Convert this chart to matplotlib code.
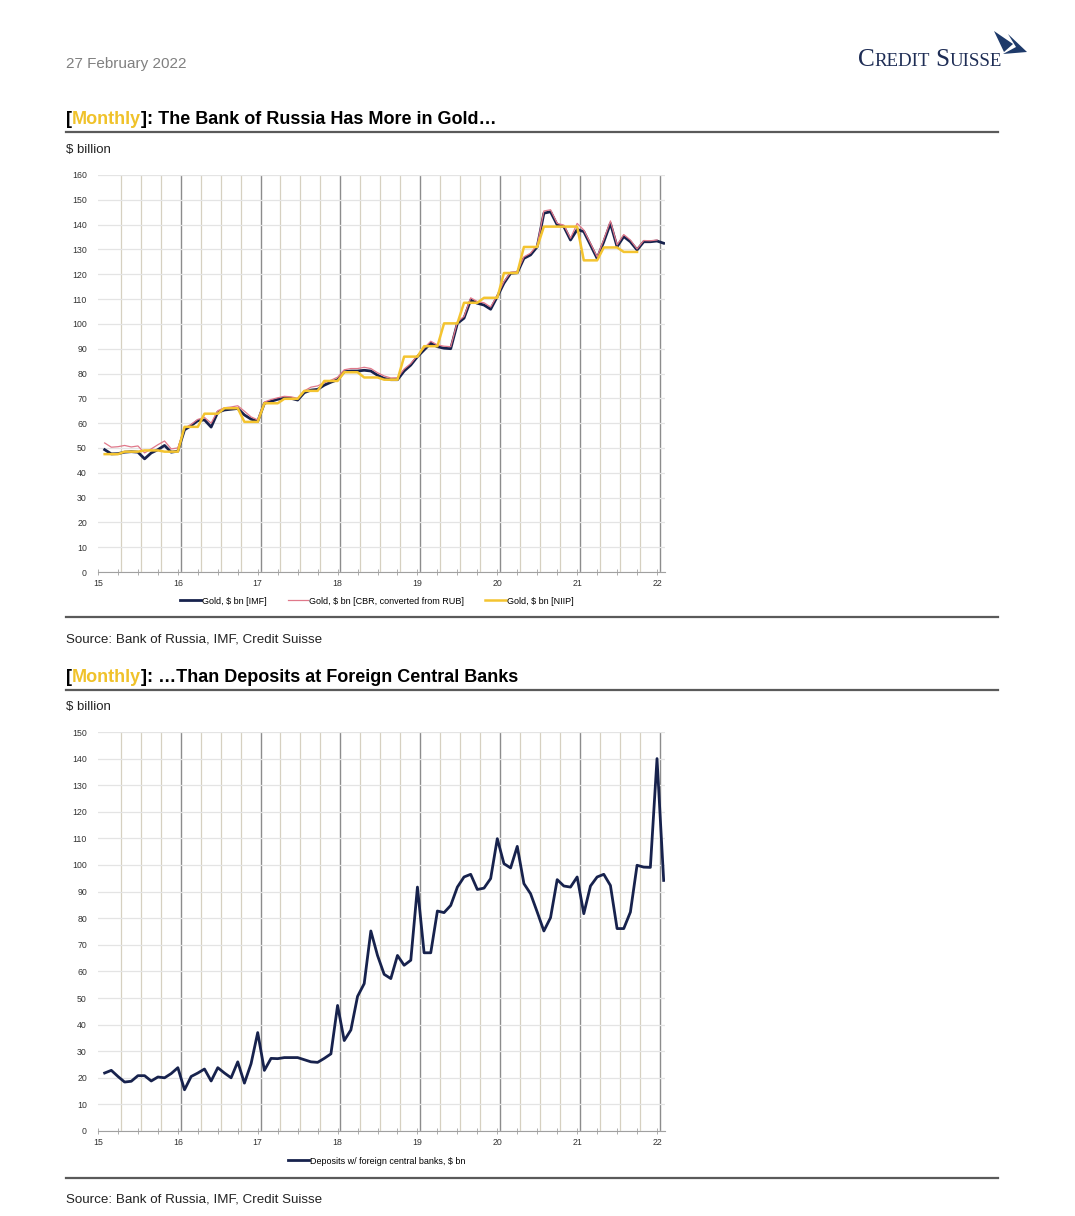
import numpy as np
import matplotlib
matplotlib.use("Agg")
import matplotlib.pyplot as plt
from matplotlib.lines import Line2D
from matplotlib.patches import Polygon

plt.rcParams['font.family'] = ['Liberation Sans', 'DejaVu Sans']

W, H = 1075, 1216

# ---- data (monthly, Jan 2015 onwards) ----
gold_imf = [49.3, 47.6, 47.7, 48.3, 48.5, 48.3, 45.6, 48.0, 49.3, 51.0, 48.3, 48.7,
            57.3, 59.0, 61.0, 61.3, 58.4, 64.4, 65.3, 65.6, 65.9, 63.3, 61.6, 60.7,
            68.0, 68.8, 69.6, 70.1, 70.0, 69.3, 72.3, 73.3, 73.6, 75.3, 76.5, 77.5,
            80.7, 81.0, 81.0, 81.3, 81.0, 79.3, 78.0, 77.5, 77.5, 81.0, 83.4, 86.8,
            89.5, 92.2, 90.8, 90.2, 90.0, 100.2, 102.3, 109.6, 108.3, 107.6, 105.9, 111.0,
            116.4, 120.4, 120.6, 126.4, 127.8, 131.1, 144.6, 145.2, 139.9, 139.2, 133.8, 138.0,
            137.2, 131.8, 126.4, 133.1, 140.5, 131.1, 135.2, 133.1, 129.8, 133.1, 133.1, 133.4,
            132.5]

gold_cbr = [52.0, 50.3, 50.5, 51.0, 50.4, 50.8, 48.0, 49.6, 51.3, 52.8, 49.6, 50.0,
            58.0, 59.5, 61.5, 62.3, 60.0, 65.0, 66.2, 66.5, 67.0, 64.8, 62.5, 61.3,
            68.5, 69.5, 70.2, 70.8, 70.6, 70.0, 73.0, 74.5, 75.0, 76.3, 77.3, 78.5,
            81.5, 82.0, 82.0, 82.5, 82.0, 80.3, 79.0, 78.2, 78.3, 81.8, 84.0, 87.3,
            90.2, 93.0, 91.5, 91.0, 90.8, 100.8, 103.0, 110.5, 109.0, 108.5, 106.8, 111.5,
            117.0, 120.8, 121.0, 127.0, 128.5, 131.8, 145.5, 146.0, 140.5, 139.8, 134.5, 140.5,
            137.8, 132.5, 127.0, 134.0, 141.5, 131.8, 136.0, 133.8, 130.2, 133.6, 133.5, 133.8]

# quarterly NIIP values, Q1 2015 .. Q3 2021
gold_niip_q = [47.5, 48.5, 49.0, 48.5,
               58.5, 63.8, 66.0, 60.5,
               68.0, 69.8, 73.0, 77.0,
               80.5, 78.4, 77.5, 86.8,
               91.0, 100.2, 108.5, 110.5,
               120.5, 131.0, 139.2, 139.2,
               125.6, 130.8, 129.0]

deposits = [21.8, 22.8, 20.5, 18.4, 18.7, 20.8, 20.8, 18.8, 20.3, 20.0, 21.6, 23.8,
            15.5, 20.5, 21.8, 23.3, 18.8, 23.8, 21.8, 20.0, 26.0, 18.0, 25.3, 37.0,
            22.8, 27.3, 27.2, 27.6, 27.6, 27.6, 26.8, 26.0, 25.8, 27.3, 29.0, 47.2,
            34.0, 38.0, 50.6, 55.4, 75.2, 66.0, 58.9, 57.3, 66.0, 62.3, 64.2, 91.7,
            67.0, 67.0, 82.7, 82.1, 84.8, 91.7, 95.5, 96.5, 90.8, 91.3, 94.9, 109.9,
            100.5, 98.9, 107.0, 93.0, 89.2, 82.3, 75.2, 80.2, 94.5, 92.1, 91.7, 95.5,
            81.7, 92.1, 95.5, 96.5, 92.3, 76.1, 76.1, 82.3, 99.9, 99.2, 99.1, 140.0,
            94.2]

year_labels = ["15", "16", "17", "18", "19", "20", "21", "22"]

NAVY = "#17224d"
PINK = "#e0788a"
GOLD = "#f4c430"


def months_x(n):
    # end-of-month position in "year" units (15 = start of 2015)
    return 15 + (np.arange(n) + 1) / 12.0


fig = plt.figure(figsize=(W / 100, H / 100), dpi=100)
fig.patch.set_facecolor("white")
renderer = fig.canvas.get_renderer()


def fx(x):
    return x / W


def fy(y):
    return 1 - y / H


def rich_text(x, y, parts, **kw):
    for s, c in parts:
        t = fig.text(fx(x), fy(y), s, color=c, va="baseline", ha="left", **kw)
        bb = t.get_window_extent(renderer=renderer)
        x += bb.width


def rule(y):
    fig.add_artist(Line2D([fx(66), fx(998)], [fy(y), fy(y)], color="#5a5a5a", lw=1.6))


def style_axes(ax, ymax, ystep):
    ax.set_xlim(15, 22.1)
    ax.set_ylim(0, ymax)
    ax.set_yticks(np.arange(0, ymax + 1, ystep))
    ax.set_xticks(np.arange(15, 23))
    ax.set_xticklabels(year_labels)
    ax.set_xticks(np.arange(15, 22.1, 0.25), minor=True)
    for s in ["top", "right", "left"]:
        ax.spines[s].set_visible(False)
    ax.spines["bottom"].set_color("#a0a0a0")
    ax.spines["bottom"].set_linewidth(0.8)
    ax.tick_params(axis="y", length=0, labelsize=6.3, pad=8, colors="#333333")
    ax.tick_params(axis="x", which="both", direction="inout", length=4, width=0.6,
                   color="#a0a0a0", labelsize=6.3, labelcolor="#333333", pad=3)
    ax.yaxis.grid(True, color="#e4e4e4", lw=0.9)
    ax.set_axisbelow(True)
    for k in range(1, 29):
        pos = 15 + k / 4.0 + 0.035
        if k % 4 == 0:
            ax.axvline(pos, color="#8c8c8c", lw=1.0, zorder=0.5)
        else:
            ax.axvline(pos, color="#d6d0c0", lw=0.9, zorder=0.5)


# ---- header ----
fig.text(fx(66), fy(68), "27 February 2022", color="#808080", fontsize=11, va="baseline")

cx = 858
for s, size in [("C", 18.2), ("REDIT", 13.6), (" ", 13.6), ("S", 18.2), ("UISSE", 13.6)]:
    t = fig.text(fx(cx), fy(66), s, color="#1e2d55", fontsize=size, va="baseline",
                 family="Liberation Serif")
    cx += t.get_window_extent(renderer=renderer).width
sail1 = [(994, 31), (1013, 44), (1004, 52)]
sail2 = [(1008, 34), (1027, 52), (1003, 54), (1016, 47)]
for pts in (sail1, sail2):
    fig.add_artist(Polygon([(fx(a), fy(b)) for a, b in pts], closed=True,
                           transform=fig.transFigure, color="#1e3a6a", lw=0))

# ---- chart 1 ----
rich_text(66, 124, [("[", "black"), ("Monthly", "#f0c22a"),
                    ("]: The Bank of Russia Has More in Gold\u2026", "black")],
          fontsize=13, fontweight="bold")
rule(132)
fig.text(fx(66), fy(153), "$ billion", fontsize=9.5, va="baseline", color="#222222")

ax1 = fig.add_axes([fx(98), fy(572), (665 - 98) / W, (572 - 175) / H])
style_axes(ax1, 160, 10)
niip = np.repeat(gold_niip_q, 3)
ax1.plot(months_x(len(gold_imf)), gold_imf, color=NAVY, lw=2.0, label="Gold, $ bn [IMF]")
ax1.plot(months_x(len(gold_cbr)), gold_cbr, color=PINK, lw=0.9,
         label="Gold, $ bn [CBR, converted from RUB]")
ax1.plot(months_x(len(niip)), niip, color=GOLD, lw=1.8, label="Gold, $ bn [NIIP]")
fig.legend(*ax1.get_legend_handles_labels(), loc="center", bbox_to_anchor=(fx(377), fy(601)),
           ncol=3, frameon=False, fontsize=6.5, handlelength=2.3, handletextpad=0.1,
           columnspacing=2.3)

rule(617)
fig.text(fx(66), fy(642), "Source: Bank of Russia, IMF, Credit Suisse", fontsize=9.6,
         va="baseline", color="#222222")

# ---- chart 2 ----
rich_text(66, 682, [("[", "black"), ("Monthly", "#f0c22a"),
                    ("]: \u2026Than Deposits at Foreign Central Banks", "black")],
          fontsize=13, fontweight="bold")
rule(690)
fig.text(fx(66), fy(710), "$ billion", fontsize=9.5, va="baseline", color="#222222")

ax2 = fig.add_axes([fx(98), fy(1131), (665 - 98) / W, (1131 - 732) / H])
style_axes(ax2, 150, 10)
ax2.plot(months_x(len(deposits)), deposits, color=NAVY, lw=2.0,
         label="Deposits w/ foreign central banks, $ bn")
fig.legend(*ax2.get_legend_handles_labels(), loc="center", bbox_to_anchor=(fx(377), fy(1161)),
           frameon=False, fontsize=6.5, handlelength=2.3, handletextpad=0.1)

rule(1178)
fig.text(fx(66), fy(1203), "Source: Bank of Russia, IMF, Credit Suisse", fontsize=9.6,
         va="baseline", color="#222222")

fig.savefig("out.png", dpi=100, facecolor="white")
